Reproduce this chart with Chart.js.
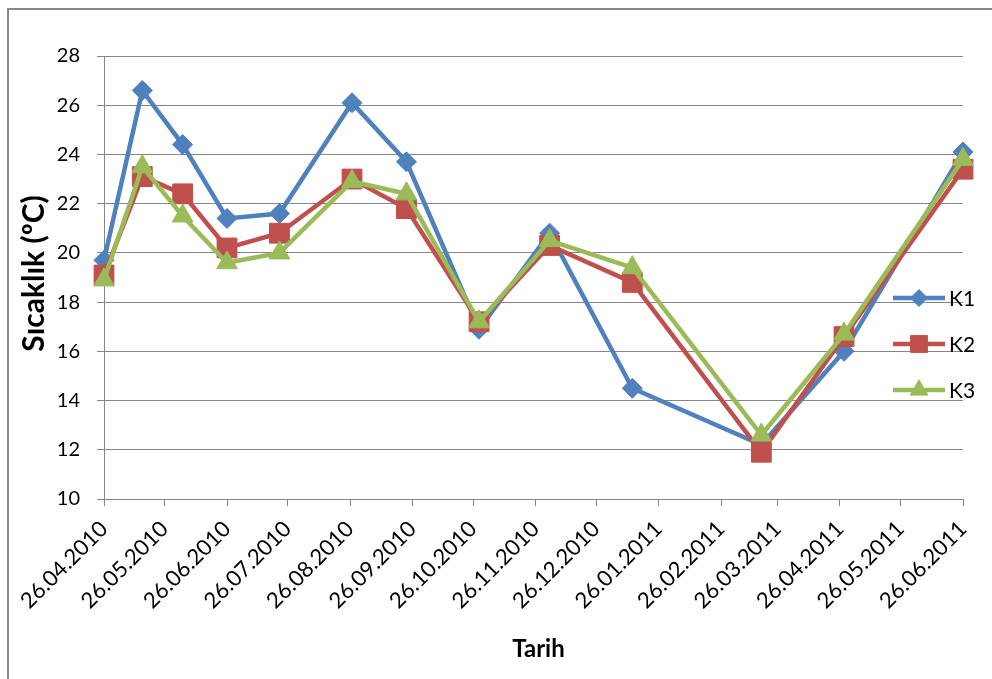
<!DOCTYPE html>
<html>
<head>
<meta charset="utf-8">
<script src="https://cdn.jsdelivr.net/npm/chart.js@4/dist/chart.umd.min.js"></script>
<style>
  html, body { margin: 0; padding: 0; background: #ffffff; }
  #wrap { width: 992px; height: 679px; position: relative; }
</style>
</head>
<body>
<div id="wrap"><canvas id="c" width="992" height="679"></canvas></div>
<script>
// Measurement dates (dd.mm.yyyy)
const dates = ['26.04.2010','15.05.2010','04.06.2010','26.06.2010','22.07.2010','27.08.2010','23.09.2010',
               '29.10.2010','03.12.2010','13.01.2011','18.03.2011','28.04.2011','26.06.2011'];
// Temperatures (°C) per station
const k1 = [19.7, 26.6, 24.4, 21.4, 21.6, 26.1, 23.7, 16.9, 20.8, 14.5, 12.2, 16.0, 24.1];
const k2 = [19.1, 23.1, 22.4, 20.2, 20.8, 23.0, 21.8, 17.2, 20.3, 18.8, 11.9, 16.6, 23.4];
const k3 = [18.9, 23.5, 21.5, 19.6, 20.0, 22.9, 22.4, 17.2, 20.5, 19.4, 12.6, 16.7, 23.8];
// Date axis tick labels
const tickLabels = ['26.04.2010','26.05.2010','26.06.2010','26.07.2010','26.08.2010','26.09.2010','26.10.2010',
                    '26.11.2010','26.12.2010','26.01.2011','26.02.2011','26.03.2011','26.04.2011','26.05.2011','26.06.2011'];
const seriesNames = ['K1', 'K2', 'K3'];

const DAY = 86400000;
function toUTC(s) { const p = s.split('.'); return Date.UTC(+p[2], +p[1] - 1, +p[0]); }
const origin = toUTC(tickLabels[0]);
const dayOf = s => Math.round((toUTC(s) - origin) / DAY);
const tickDays = tickLabels.map(dayOf);
const labelByDay = {};
tickLabels.forEach((t, i) => { labelByDay[tickDays[i]] = t; });

const pts = vals => vals.map((v, i) => ({ x: dayOf(dates[i]), y: v }));

const FONT = 'Lato, "Open Sans", sans-serif';
const GRID = '#868686';

const styles = [
  { color: '#4F81BD', pointStyle: 'rectRot', radius: 10, order: 3 },
  { color: '#C0504D', pointStyle: 'rect', radius: 14, order: 2 },
  { color: '#9BBB59', pointStyle: 'triangle', radius: 12, order: 1 }
];

const datasets = [k1, k2, k3].map((vals, i) => ({
  label: seriesNames[i],
  data: pts(vals),
  borderColor: styles[i].color,
  backgroundColor: styles[i].color,
  borderWidth: 4.5,
  pointStyle: styles[i].pointStyle,
  pointRadius: styles[i].radius,
  pointBorderWidth: 1,
  pointBackgroundColor: styles[i].color,
  pointBorderColor: styles[i].color,
  order: styles[i].order,
  clip: false,
  tension: 0
}));

// Outer frame, axis titles and the legend drawn inside the plot
const decor = {
  id: 'decor',
  beforeDraw(chart) {
    const ctx = chart.ctx;
    ctx.save();
    ctx.fillStyle = '#ffffff';
    ctx.fillRect(0, 0, chart.width, chart.height);
    ctx.strokeStyle = '#878787';
    ctx.lineWidth = 2;
    ctx.beginPath();
    ctx.moveTo(8, chart.height + 2);
    ctx.lineTo(8, 9);
    ctx.lineTo(chart.width + 2, 9);
    ctx.stroke();
    ctx.restore();
  },
  afterDraw(chart) {
    const ctx = chart.ctx;
    const area = chart.chartArea;
    ctx.save();
    ctx.fillStyle = '#000000';
    ctx.textAlign = 'center';
    ctx.textBaseline = 'middle';
    // y title
    ctx.save();
    ctx.translate(34, (area.top + area.bottom) / 2 - 4);
    ctx.rotate(-Math.PI / 2);
    ctx.font = 'bold 30px ' + FONT;
    ctx.fillText('Sıcaklık (ºC)', 0, 0);
    ctx.restore();
    // x title
    ctx.font = 'bold 24px ' + FONT;
    ctx.fillText('Tarih', (area.left + area.right) / 2 + 5, 649);

    // legend
    const rows = [298, 344, 390];
    chart.data.datasets.forEach((ds, i) => {
      const y = rows[i];
      ctx.strokeStyle = ds.borderColor;
      ctx.lineWidth = 4.5;
      ctx.beginPath();
      ctx.moveTo(893, y);
      ctx.lineTo(945, y);
      ctx.stroke();
      ctx.fillStyle = ds.backgroundColor;
      ctx.strokeStyle = ds.borderColor;
      ctx.lineWidth = 1;
      Chart.helpers.drawPoint(ctx, { pointStyle: ds.pointStyle, radius: ds.pointRadius * 0.85, rotation: 0, borderWidth: 1 }, 919, y);
      ctx.fillStyle = '#000000';
      ctx.textAlign = 'left';
      ctx.font = '21px ' + FONT;
      ctx.fillText(ds.label, 949, y + 1);
    });
    ctx.restore();
  }
};

new Chart(document.getElementById('c'), {
  type: 'line',
  data: { datasets },
  plugins: [decor],
  options: {
    responsive: false,
    animation: false,
    events: [],
    layout: { padding: { top: 56, right: 29, left: 0, bottom: 0 } },
    plugins: { legend: { display: false }, tooltip: { enabled: false } },
    scales: {
      x: {
        type: 'linear',
        min: tickDays[0],
        max: tickDays[tickDays.length - 1],
        afterBuildTicks(scale) { scale.ticks = tickDays.map(v => ({ value: v })); },
        afterFit(scale) { scale.height = 679 - 499; },
        grid: { drawOnChartArea: false, drawTicks: true, tickLength: 7, color: GRID, lineWidth: 1 },
        border: { display: true, color: GRID, width: 1 },
        ticks: {
          autoSkip: false,
          minRotation: 45,
          maxRotation: 45,
          padding: 10,
          color: '#000000',
          font: { family: FONT, size: 22 },
          callback: v => labelByDay[v] || ''
        }
      },
      y: {
        min: 10,
        max: 28,
        afterFit(scale) { scale.width = 104; },
        grid: { color: GRID, lineWidth: 1, tickLength: 7, drawTicks: true },
        border: { display: true, color: GRID, width: 1 },
        ticks: {
          stepSize: 2,
          padding: 17,
          color: '#000000',
          font: { family: FONT, size: 20 }
        }
      }
    }
  }
});
</script>
</body>
</html>
